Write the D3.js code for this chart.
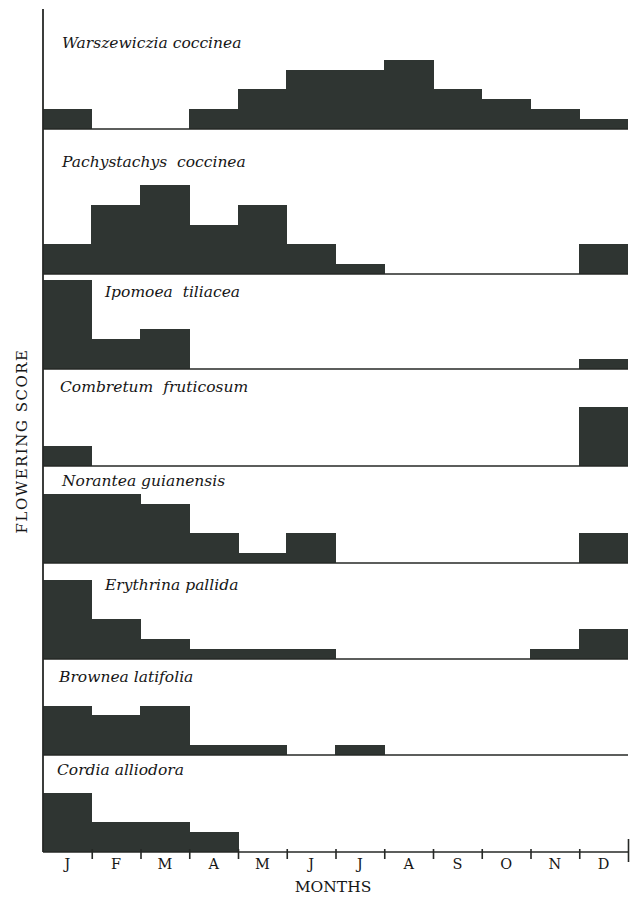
<!DOCTYPE html>
<html>
<head>
<meta charset="utf-8">
<script src="https://cdn.jsdelivr.net/npm/d3@7"></script>
<style>
  html, body { margin: 0; padding: 0; background: #ffffff; }
  svg { display: block; }
</style>
</head>
<body>
<svg id="chart" width="639" height="897"></svg>
<script>
// ---- data ----
const months = ["J","F","M","A","M","J","J","A","S","O","N","D"];
const species = [
  "Warszewiczia coccinea",
  "Pachystachys  coccinea",
  "Ipomoea  tiliacea",
  "Combretum  fruticosum",
  "Norantea guianensis",
  "Erythrina pallida",
  "Brownea latifolia",
  "Cordia alliodora"
];
const warszewicziaScores = [2,0,0,2,4,6,6,7,4,3,2,1];
const pachystachysScores = [3,7,9,5,7,3,1,0,0,0,0,3];
const ipomoeaScores      = [9,3,4,0,0,0,0,0,0,0,0,1];
const combretumScores    = [2,0,0,0,0,0,0,0,0,0,0,6];
const noranteaScores     = [7,7,6,3,1,3,0,0,0,0,0,3];
const erythrinaScores    = [8,4,2,1,1,1,0,0,0,0,1,3];
const browneaScores      = [5,4,5,1,1,0,1,0,0,0,0,0];
const cordiaScores       = [6,3,3,2,0,0,0,0,0,0,0,0];
const allScores = [warszewicziaScores, pachystachysScores, ipomoeaScores, combretumScores,
                   noranteaScores, erythrinaScores, browneaScores, cordiaScores];

// ---- layout ----
const left = 43, right = 628;
const baselines = [129, 274, 369, 466, 563, 659, 755, 852];
const labelPos = [
  {x: 62, y: 48}, {x: 62, y: 167}, {x: 105, y: 297}, {x: 60, y: 392},
  {x: 62, y: 486}, {x: 105, y: 590}, {x: 59, y: 682}, {x: 57, y: 775}
];
const barColor = "#2f3532";
const lineColor = "#262826";
const textColor = "#161616";

const svg = d3.select("#chart");

const x = d3.scaleBand().domain(d3.range(12)).range([left, right]).padding(0);
const xEdge = d3.scaleLinear().domain([0, 12]).range([left, right]);
const h = d3.scaleLinear().domain([0, 10]).range([0, 99]);

allScores.forEach((scores, p) => {
  const base = baselines[p];
  const g = svg.append("g");
  g.selectAll("rect")
    .data(scores.map((v, i) => ({v, i})).filter(d => d.v > 0))
    .join("rect")
    .attr("x", d => x(d.i) - 0.5)
    .attr("width", d => x.bandwidth() + (d.i < 11 ? 1 : 0.5))
    .attr("y", d => base - h(d.v))
    .attr("height", d => h(d.v))
    .attr("fill", barColor)
    .attr("shape-rendering", "crispEdges");
  g.append("line")
    .attr("x1", left).attr("x2", right)
    .attr("y1", base).attr("y2", base)
    .attr("stroke", lineColor).attr("stroke-width", 1.6);
  g.append("text")
    .attr("x", labelPos[p].x).attr("y", labelPos[p].y)
    .attr("font-family", "DejaVu Serif")
    .attr("font-style", "italic")
    .attr("font-size", 15.5)
    .attr("fill", textColor)
    .style("white-space", "pre")
    .text(species[p]);
});

// left vertical axis
svg.append("line")
  .attr("x1", left).attr("x2", left)
  .attr("y1", 9).attr("y2", baselines[7])
  .attr("stroke", lineColor).attr("stroke-width", 1.8);

// bottom axis ticks at month boundaries
const bottom = baselines[7];
const tickAxis = d3.axisBottom(xEdge).tickValues(d3.range(1, 13)).tickSize(0).tickFormat("");
const ta = svg.append("g").attr("transform", `translate(0,${bottom})`).call(tickAxis);
ta.select(".domain").remove();
ta.selectAll(".tick line")
  .attr("y1", d => d === 12 ? -13 : -3)
  .attr("y2", d => d === 12 ? 10 : 7)
  .attr("stroke", lineColor).attr("stroke-width", 1.6);

// month labels
const labelAxis = d3.axisBottom(x).tickSize(0).tickFormat(i => months[i]);
const la = svg.append("g").attr("transform", `translate(0,${bottom})`).call(labelAxis);
la.select(".domain").remove();
la.selectAll(".tick text")
  .attr("y", 17)
  .attr("dy", 0)
  .attr("font-family", "DejaVu Serif")
  .attr("font-size", 14.5)
  .attr("fill", textColor);

// axis titles
svg.append("text")
  .attr("x", 333).attr("y", 892)
  .attr("text-anchor", "middle")
  .attr("font-family", "DejaVu Serif")
  .attr("font-size", 15.5)
  .attr("fill", textColor)
  .text("MONTHS");

svg.append("text")
  .attr("transform", "translate(27,441) rotate(-90)")
  .attr("text-anchor", "middle")
  .attr("font-family", "DejaVu Serif")
  .attr("font-size", 15)
  .attr("letter-spacing", 1.5)
  .attr("fill", textColor)
  .text("FLOWERING SCORE");
</script>
</body>
</html>
